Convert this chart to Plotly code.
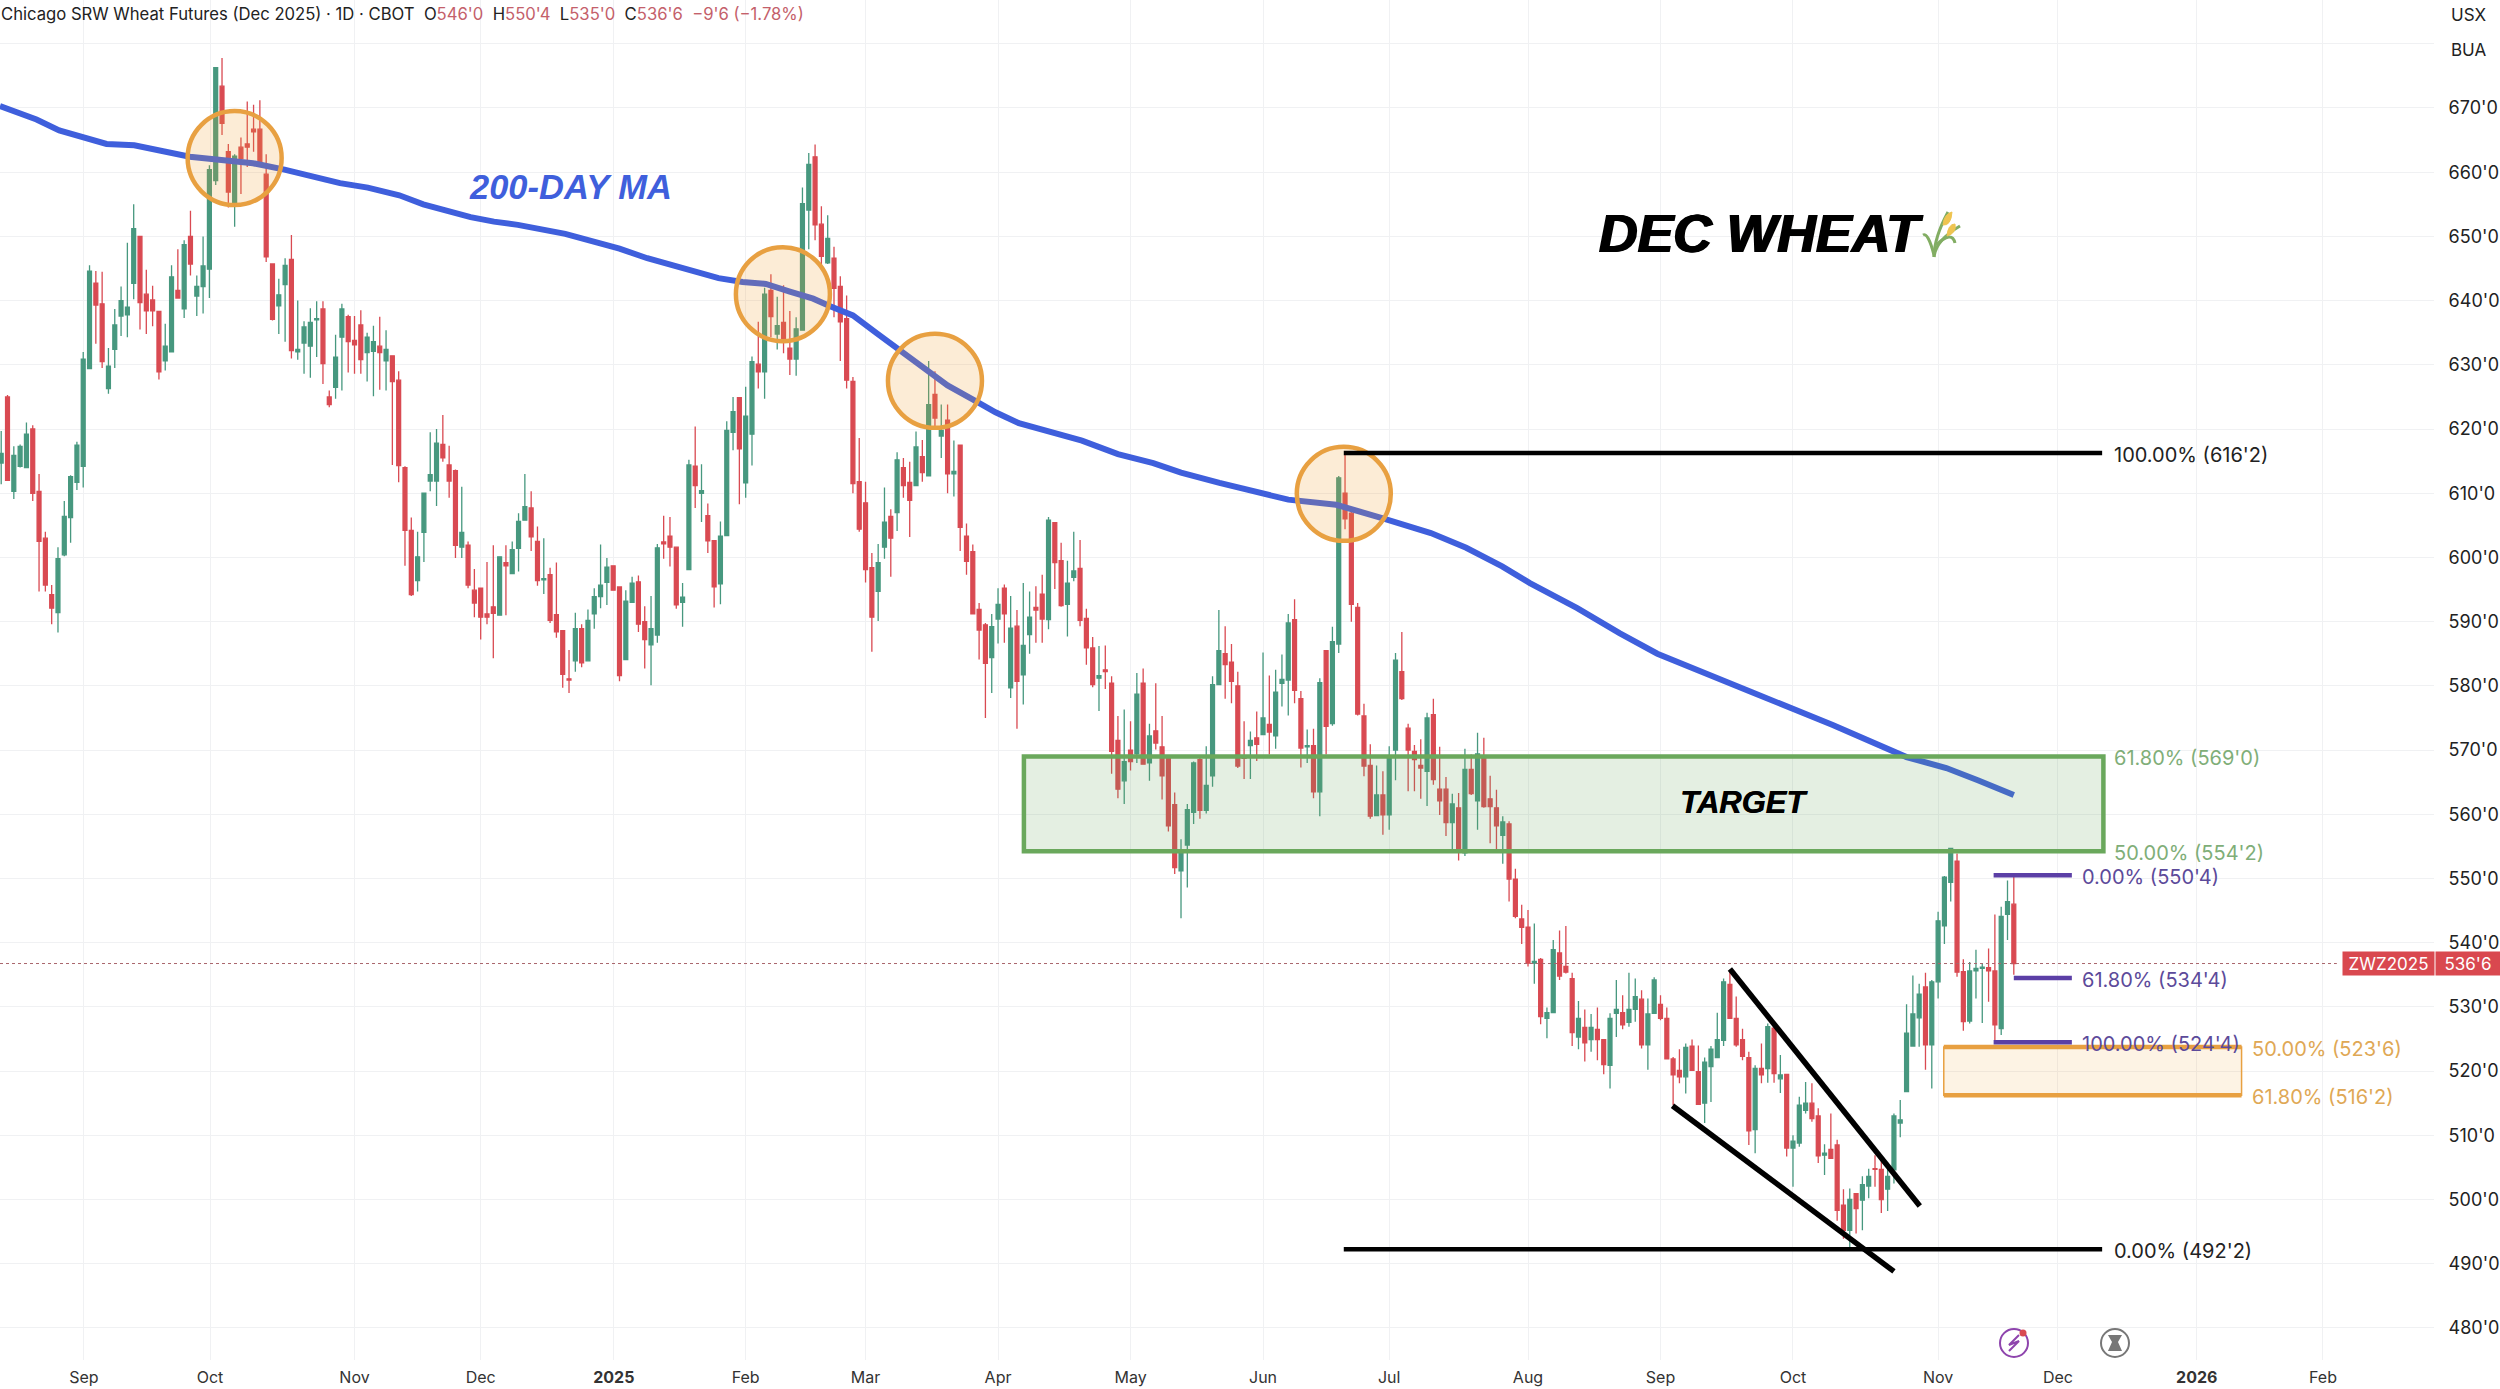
import plotly.graph_objects as go

W, H = 2500, 1389
PLOT_R, PLOT_B = 2434, 1360

opens = [
614.7,625,610.3,614.2,614,620,610.3,603,594.2,591.4,
600.4,606.2,611.7,614.2,629.4,642.7,639.5,626.3,632.4,637.6,
637.8,642.7,650,641,640.1,638.3,630.6,632,641.6,638.7,
650,640.7,642.2,644.9,658.7,673.4,663.2,654.8,663.9,664.4,
666.7,666.7,659.7,645.7,639.2,642.5,646.4,632,633.4,632.9,
637,638.7,625,626.5,634.3,637.5,633.8,636.2,631.9,632.1,
632.9,630.6,631.4,627.6,614,604.2,596.4,603.9,611.9,611.9,
617.6,614.4,613.5,601.6,601.9,594.9,595.2,591.2,592.3,591,
599.2,597.5,601.4,605.8,607.7,602.5,596.5,597.3,591.1,588.6,
581.1,583.9,588.9,583.9,591.2,593.9,596.1,598.7,595.4,584.1,
593,596.2,590,586.4,587.9,602.4,603.3,601.6,593,598.1,
614.2,610,606.5,602.6,595.9,603.4,619.5,624.9,611.6,619.2,
630.1,628.9,641.6,634.8,636.6,632.6,630.9,635.4,654.1,662.4,
651.9,645.9,646.6,642.2,637.2,627.4,611.8,608.5,598.4,594.7,
601.6,606.4,607,614,611.7,611.2,615.7,612.7,625.4,618.9,
621.4,613,617.5,603.3,600.9,591.9,589.5,584.4,590.4,595.2,
579.7,589.3,581.7,588,592.2,594.3,590.3,605.4,599.5,592.7,
596.9,598.3,590.5,585.9,581.2,582.5,580.4,571.5,565.2,570,
569.4,580.4,568,573,570.5,568.9,561.5,551.2,555.2,560.3,
568.5,560.6,566,580.2,585,583.7,580,569,570.7,571.9,
572.4,574,572.2,580.4,580.9,590.3,578,570.5,570.7,563.5,
585.5,574.1,586.5,610,606.9,592.2,575.3,567.6,559.8,563,
559.9,570,582.2,573.4,569.8,567.6,566.7,575.5,563.9,563.9,
558.7,561,554,567,562.1,568.8,562.4,561,556.7,558.5,
549.9,543.7,542.4,536.8,537.4,528.2,529.1,538.4,536.3,534.4,
525.3,526.8,524.9,526.5,524.9,520.9,529,529.1,527.6,529.6,
531.2,524.1,529,530.4,528.2,521.9,520.1,519.1,523.9,519.9,
515,520.7,522.1,524.8,533.5,528.2,524.9,522.1,510.9,520.4,
520.4,526.7,518.8,519.5,508,508.8,513.9,515,513,506.9,
507.8,508.5,499.1,495.2,500.9,499.9,502.1,504.8,504.7,501.6,
504.6,511.9,516.8,523.9,528.3,533.1,524.1,533.9,542.6,549.4,
552.7,535.5,527.8,535.6,536,536.1,535.6,526.6,544.4,546,
]
highs = [
619.7,625.3,617.3,617.6,621,620.6,613,604,595.7,601.6,
608.8,612.8,618,632,645.5,644.6,644.5,632.6,638.7,642.2,
649,655,650,644.8,642.3,638.3,636.4,645.5,648,649.4,
654,643.9,650,661.1,676.3,677.8,664.4,662.8,665.4,671,
670.5,671.2,662.8,645.8,643.4,646.6,650.2,640,636.8,638.8,
639.9,639.9,626,634.7,639.5,637.8,637.6,638.5,635,636.1,
637.5,635.4,631.5,629,614.2,606.2,604,610,619.5,620,
622.2,617.4,613.7,611,602.5,598.2,595.2,599.3,601.9,600.1,
601.9,602.5,606.9,613,610.3,604.8,603,598.4,599.2,588.7,
585.6,591.4,589.6,591.9,595.2,602,599.9,598.7,595.4,594.9,
597,597.2,592.4,594,602.1,606.5,606.3,601.6,596,615.2,
620.4,614.5,608.4,602.6,605.6,621.2,625,624.9,626.6,631.3,
636.7,642,644.1,640.6,642.4,638.4,637.4,657.6,663,664.3,
654.7,653.3,648.4,643.8,640.8,628.1,618.6,611.8,600.7,602.1,
610.9,607.5,616.4,615.5,614.9,619.6,618.3,630.6,629,623.8,
623.8,618.2,617.5,605.3,602,592.9,589.8,591.2,595.2,595.8,
594,591.8,596,594.7,595.5,597.3,606.3,605.5,602.3,599.5,
604,602.7,592,587.6,586.2,586.3,581.5,575.3,576.3,574.5,
582,582.7,574.1,580.4,575.3,569.1,563.4,556.1,561.6,568.2,
568.9,570.6,581.5,591.8,589.3,586.5,582.2,574.5,572.9,576,
585.2,581.6,582.5,584.9,591.2,593.5,579.2,573.2,573.3,581.2,
585.5,589.2,612.7,616.25,607.4,592.9,577.2,570.9,567.6,566.7,
570.6,585.1,588.4,574.1,570.8,571.7,575.8,578,570.5,565.8,
563.2,563.3,570.2,569.3,572.7,571.9,566,563.8,559.7,558.9,
551.5,545.9,545.1,543,537.6,529.9,540.4,541.9,542.6,535.3,
530.9,529.6,528.9,529.9,524.9,529,534.2,531.8,535.3,534.4,
532.6,531.3,534.6,531.8,529.9,522.2,523.4,524.3,524.9,524,
522.1,523.9,529.1,534.4,535.7,531.6,526.6,523,520.9,524.3,
527.4,527.7,522.5,519.5,510,516,518.3,518.1,514.2,508.6,
513.4,509.3,501.6,501.7,500.9,503.6,504.8,506.9,506.1,505.1,
513.4,515.5,530.4,534.9,533.6,535.3,534.2,544.8,550.4,554.8,
553.9,537.4,537,538.9,536.8,539.1,544.4,545.6,549.7,550.5,
]
lows = [
611.4,612,609.1,614,614,608.8,594.7,594.7,589.6,588.3,
600.2,602.3,610.5,610.9,629.4,633.3,629.5,625.5,629.5,634.5,
634.3,640.2,635.5,634.8,636,627.7,629.1,631.9,640.4,637.3,
643.9,637.6,638,640.4,658,665.8,654.5,651.5,656.6,660.8,
663.2,660.8,646,636.9,634.8,633.6,631,630.8,628.6,628,
631.2,627,623.4,624.7,626,628.8,628.6,628.6,627.4,625.1,
626.1,626,614.4,611.7,598.7,594,594.7,599.3,610.3,608,
614.9,609.3,599.9,599.9,595.2,590.7,587.2,589.6,584.3,590.9,
591,597.5,597.8,605.8,601,595.6,594.3,589.8,587.5,579.7,
578.9,582.2,582.9,583.9,588.9,592.1,592.6,594.9,580.7,584.1,
593,588.4,582.7,580.1,586.7,599.8,598.6,592,589.2,598,
607.7,605.5,600.7,592.2,592.7,603.4,616.7,608.3,609.3,614.3,
626.3,624.7,634.3,632.4,631.8,628.4,628.3,635.4,648,649.4,
644.8,645.7,637.4,630.6,626.3,610,604,596.1,585.3,590.1,
599.8,597,604.1,609.3,603.2,611.2,611.8,612.7,620.1,615.5,
610,609.5,601,597.3,591.2,584.1,575,578.9,586.6,586.7,
578.1,573.3,577.1,585,586.7,586.7,588.8,595.1,592.3,587.7,
596.3,589.3,583.3,579.8,576.1,579.5,566.3,562.5,561.6,566.8,
568,567.7,565.2,570.1,562.3,557.3,550.7,543.8,548.6,558.5,
559.3,560.1,564.3,580.2,578,577.3,567.2,565.5,565.5,568.3,
572.4,569.3,570.2,576.8,575.4,577.3,567.3,568,562.5,559.7,
569.3,573.8,585.1,604.4,590,575.4,565.9,559.3,559.8,556.8,
557.6,565.3,577.8,563.6,563.6,562.4,561.3,564.6,559.9,556.6,
554.5,552.8,553.5,563,557.6,561,555.5,554.2,552.3,546.4,
543.8,539.8,536.3,533.6,527.3,525.1,529.1,534.2,535.2,523.9,
523.4,521.5,523,521.7,519.5,517.3,525.3,526.5,526.9,527.7,
523.5,520.2,529,527.9,521.8,514.7,518.1,516.5,520.1,514.8,
511.9,515.2,522.1,523.9,528.2,523.8,521.7,508.5,507.2,518.1,
518.2,518.2,516.6,506.7,502,508.2,513.4,512.1,505.7,503.8,
506.4,496.7,493.9,492.4,494.7,495.2,500.2,502,497.9,498.2,
502.5,509.7,516.8,523.9,523.8,520.2,517.3,531.3,539.8,546.4,
534.7,526.3,527.4,531.3,527.5,530.8,524.5,525.6,540.4,535,
]
closes = [
616.2,612,615.9,617.3,619.2,610,602.5,595.7,592.1,599.8,
606.4,612.6,617.5,630.9,644.6,639.3,630.5,629.8,636.2,640,
639,651.2,639.7,638.4,638.4,628.9,632.9,643.7,640.4,648.7,
645.7,642.2,645.4,660.4,676.3,667.6,656.9,662.5,662.1,663.9,
666.3,661.4,646.8,637.1,640.9,645.5,632.2,632.4,635.9,636.6,
637.2,630.2,623.8,631.2,638.7,633.6,633.1,630.8,634.3,633.6,
631.9,632.4,627.4,614.3,604.2,594.2,600.1,610,612.9,617.8,
615.5,611.9,601.9,603.9,595.7,592.9,590.7,590.7,591.3,600.1,
598.7,601.2,605.6,607.9,603.2,596.4,596.7,590.2,588.4,581.8,
580.9,588.9,583.6,590.2,593.9,595.7,598.5,594.9,581.6,593.2,
596,589.6,587.2,588.9,601.5,602.1,601.6,592.6,593.8,614.4,
611.2,610.4,602.6,595.4,603.3,619.8,622.7,616.9,622,630.5,
628.9,641,637.5,636.1,633.5,630.9,635.6,655.1,661.2,651.8,
646.9,649.7,641.9,636.7,627.6,611.5,604.4,598.1,590.7,599.2,
605.5,603,615.2,611.2,608.9,617.2,613.2,623.8,621.7,619.8,
613,613.4,604.7,599.4,591.2,588.7,583.5,589.2,592.7,591.2,
589,580.7,586.3,590.7,591.8,590.4,605.8,599.2,592.5,596,
597.9,590.2,585.9,580.2,581.6,582.2,569.8,563.9,568.2,568.2,
578.7,567.8,572.2,571.1,566,558.2,551.7,554.1,560.7,568,
560.6,564.5,580.2,585.5,583.3,580.7,567.5,568.7,571.5,570.9,
575,572.8,579,581,589.8,579.3,570.3,570.7,563.5,580.5,
573.7,586.9,612.4,606,592.7,575.6,567.5,559.7,563,559.9,
569.1,584,578,570,568.5,567.2,575,565.4,562.1,558.7,
561.6,554.1,567,563.2,569.4,561.2,561.2,558.2,558.8,549.9,
544.1,542.4,536.8,537.1,528.5,529.1,538.9,534.8,535.4,526,
528.2,524.4,526.8,524.9,521,528.2,529.6,527.2,529.6,531.6,
524.1,528.9,534.2,528.2,521.9,519.4,519.1,523.7,520.1,514.8,
521.4,523.4,524.9,533.9,528.2,524.1,522.3,510.7,520.4,519.4,
526.9,519.6,519.4,508,509.1,514.7,515,512.6,506.8,507.2,
506.4,498.3,495.2,500,498.6,502.3,503.6,504.7,500,503.6,
513,512.4,525.9,528.9,532,524.1,533.9,543.4,550.2,554.7,
535.4,527.7,535.6,536,536.2,535.6,527.2,544.1,546.4,536.75,
]
bars = list(range(1, len(opens) + 1))

ma_bars = [0.8,6.6,10.2,14.1,17.7,22.1,26.5,30.9,35.9,40.9,45.9,50.9,54.7,59.1,64.1,67.9,75.4,79.1,82.9,90.4,94.8,99,
           103.4,109,114.7,118.5,122.2,126,129.7,132.2,136,139.8,142.9,147.9,151,155.4,158.6,162.3,167.3,172.3,178,183.6,188,194.1,
           205,212.6,220,227.6,233.2,238.9,243.3,250.8,257.5,263.5,278.5,291.3,303,309.3,314.3,320]
ma_values = [670.3,668.2,666.5,665.3,664.4,664.2,663.2,662.4,661.9,661.4,660.4,659.2,658.3,657.6,656.4,655,653,652.3,651.8,650.4,649.3,648.1,
             646.6,645.1,643.5,642.9,642.6,641.4,640.3,639.2,637.7,634.9,632.6,629.1,626.8,624.4,622.6,620.9,619.6,618.2,616.1,614.7,613.2,611.6,
             609,608.2,606.1,603.8,601.5,598.6,596,592.1,588.2,585,579,573.9,568.9,567.2,565.3,563]

month_bars = [14.1,34.1,57,77,98.1,119,138,159,180,201,221,243,264,285,308,327,349,369]
month_labels = ["Sep","Oct","Nov","Dec","<b>2025</b>","Feb","Mar","Apr","May","Jun","Jul","Aug","Sep","Oct","Nov","Dec","<b>2026</b>","Feb"]
price_ticks = [680,670,660,650,640,630,620,610,600,590,580,570,560,550,540,530,520,510,500,490,480]
price_labels = ["","670'0","660'0","650'0","640'0","630'0","620'0","610'0","600'0","590'0","580'0","570'0","560'0","550'0","540'0","530'0","520'0","510'0","500'0","490'0","480'0"]

X0, X1 = 0.81, 386.6
Y0, Y1 = 475.0, 686.82
GREEN, RED = "#47987f", "#d94a52"
FONT = "Inter"
HEAD = "Liberation Sans"
PX = lambda v: v / PLOT_R
PY = lambda v: 1 - v / PLOT_B

fig = go.Figure()
fig.add_trace(go.Candlestick(
    x=bars, open=opens, high=highs, low=lows, close=closes,
    increasing=dict(line=dict(color=GREEN, width=1.3), fillcolor=GREEN),
    decreasing=dict(line=dict(color=RED, width=1.3), fillcolor=RED),
    whiskerwidth=0, showlegend=False, hoverinfo="skip"))
fig.add_trace(go.Scatter(x=ma_bars, y=ma_values, mode="lines",
    line=dict(color="#3f5fdc", width=6), showlegend=False, hoverinfo="skip"))

shapes = []
def line(x0, y0, x1, y1, color, width, dash="solid"):
    shapes.append(dict(type="line", xref="x", yref="y", x0=x0, y0=y0, x1=x1, y1=y1,
                       line=dict(color=color, width=width, dash=dash)))

# last price
line(X0, 536.75, 371.2, 536.75, "#a9666c", 1, "dot")

# touch circles
for cx, cy in [(38, 662.2), (124.9, 641), (149, 627.5), (213.8, 609.9)]:
    shapes.append(dict(type="circle", xref="x", yref="y", x0=cx-7.45, x1=cx+7.45, y0=cy-7.32, y1=cy+7.32,
                       fillcolor="rgba(240,160,50,0.20)", line=dict(color="#e8a041", width=4.5)))

# target zone
shapes.append(dict(type="rect", xref="x", yref="y", x0=163.1, x1=334.2, y0=554.25, y1=569,
                   fillcolor="rgba(106,168,92,0.18)", line=dict(color="#6aa85c", width=4.5)))

# retracement zone
shapes.append(dict(type="rect", xref="x", yref="y", x0=308.9, x1=356.1, y0=516.25, y1=523.75,
                   fillcolor="rgba(240,160,50,0.13)", line=dict(color="#e8a041", width=1.5)))
line(308.9, 523.75, 356.1, 523.75, "#e8a041", 4.5)
line(308.9, 516.25, 356.1, 516.25, "#e8a041", 4.5)

# purple fib
line(316.8, 550.5, 329.2, 550.5, "#5b3fa6", 4.5)
line(320.0, 534.5, 329.2, 534.5, "#5b3fa6", 4.5)
line(316.8, 524.5, 329.2, 524.5, "#5b3fa6", 4.5)

# black fib
line(213.8, 616.25, 334, 616.25, "#000000", 4.5)
line(213.8, 492.25, 334, 492.25, "#000000", 4.5)

# wedge
line(275, 535.9, 305.1, 499, "#000000", 5.5)
line(265.9, 514.6, 301, 488.8, "#000000", 5.5)

def paper_path(d, **kw):
    shapes.append(dict(type="path", xref="paper", yref="paper", path=d, **kw))
def paper_circle(cx, cy, r, **kw):
    shapes.append(dict(type="circle", xref="paper", yref="paper",
                       x0=PX(cx-r), x1=PX(cx+r), y0=PY(cy+r), y1=PY(cy-r), **kw))
def P(*pts):
    return " ".join(f"{c}{PX(x):.5f},{PY(y):.5f}" for c, x, y in pts)

# wheat glyph
wheat = dict(line=dict(color="#82ad63", width=3))
paper_path(P(("M",1934,257),("Q",1934,238),("",1948,212)), **wheat)
paper_path(P(("M",1934,257),("Q",1936,240),("",1960,226)), **wheat)
paper_path(P(("M",1934,255),("Q",1928,232),("",1923,235)), **wheat)
paper_path(P(("M",1936,245),("Q",1952,230),("",1955,243)), **wheat)
paper_path(P(("M",1943,225),("Q",1944,214),("",1952,212),("Q",1951,226),("",1943,225)), fillcolor="#efc450", line=dict(color="#efc450", width=1))
paper_path(P(("M",1947,236),("Q",1948,224),("",1955,224),("Q",1957,233),("",1947,236)), fillcolor="#efc450", line=dict(color="#efc450", width=1))

# bottom icons
paper_circle(2014, 1343, 14, line=dict(color="#8e44ad", width=2), fillcolor="white")
paper_path(P(("M",2019,1335),("L",2009,1345),("L",2019,1341),("L",2009,1351)), line=dict(color="#8e44ad", width=2))
paper_circle(2023, 1333, 3.5, line=dict(color="#d94a52", width=0), fillcolor="#d94a52")
paper_circle(2115, 1343, 14, line=dict(color="#777777", width=2), fillcolor="white")
paper_path(P(("M",2108,1335),("L",2122,1335),("L",2118,1342),("L",2122,1351),("L",2108,1351),("L",2112,1342))+" Z",
           fillcolor="#777777", line=dict(color="#777777", width=0))

ann = []
def text(x, y, s, color, size, family=FONT, xref="x", yref="y", xanchor="left", shadow=None):
    font = dict(color=color, size=size, family=family)
    if shadow:
        font["shadow"] = shadow
    ann.append(dict(x=x, y=y, xref=xref, yref=yref, text=s, showarrow=False, xanchor=xanchor, yanchor="middle", font=font))

LBL = 20
DROP = 0.25
FIBG, FIBP, FIBO, FIBK = "#7fae78", "#5c4a9a", "#dfa855", "#222222"
text(PX(2112), 569-DROP, "61.80% (569'0)", FIBG, LBL, xref="paper")
text(PX(2112), 554.25-DROP, "50.00% (554'2)", FIBG, LBL, xref="paper")
text(PX(2080), 550.5-DROP, "0.00% (550'4)", FIBP, LBL, xref="paper")
text(PX(2080), 534.5-DROP, "61.80% (534'4)", FIBP, LBL, xref="paper")
text(PX(2080), 524.5-DROP, "100.00% (524'4)", FIBP, LBL, xref="paper")
text(PX(2250), 523.75-DROP, "50.00% (523'6)", FIBO, LBL, xref="paper")
text(PX(2250), 516.25-DROP, "61.80% (516'2)", FIBO, LBL, xref="paper")
text(PX(2112), 616.25-DROP, "100.00% (616'2)", FIBK, LBL, xref="paper")
text(PX(2112), 492.25-DROP, "0.00% (492'2)", FIBK, LBL, xref="paper")

text(PX(570), PY(187), "<b><i>200-DAY MA</i></b>", "#3f5fdc", 34.5, HEAD, xref="paper", yref="paper", xanchor="center")
text(PX(1761), PY(233), "<b><i>DEC WHEAT</i></b>", "#000000", 53.5, HEAD, xref="paper", yref="paper", xanchor="center", shadow="1px 0 0 #000000, -1px 0 0 #000000")
text(PX(1744), PY(802), "<b><i>TARGET</i></b>", "#000000", 31, HEAD, xref="paper", yref="paper", xanchor="center", shadow="0.5px 0 0 #000000")

R = "#c4606a"
title = ("Chicago SRW Wheat Futures (Dec 2025) · 1D · CBOT  "
         f"O<span style='color:{R}'>546'0</span>  H<span style='color:{R}'>550'4</span>  "
         f"L<span style='color:{R}'>535'0</span>  C<span style='color:{R}'>536'6</span>  "
         f"<span style='color:{R}'>−9'6 (−1.78%)</span>")
text(PX(-1), PY(14), title, "#222222", 16.65, xref="paper", yref="paper")
text(PX(2468), PY(15), "USX", "#222222", 17, xref="paper", yref="paper", xanchor="center")
text(PX(2468), PY(50), "BUA", "#222222", 17, xref="paper", yref="paper", xanchor="center")

ann.append(dict(x=PX(2388.5), y=536.75, xref="paper", yref="y", text="ZWZ2025", showarrow=False, xanchor="center", yanchor="middle",
                width=91, height=23, bgcolor="#d9484f", borderpad=0, font=dict(color="white", size=17, family=FONT)))
ann.append(dict(x=PX(2468), y=536.75, xref="paper", yref="y", text="536'6", showarrow=False, xanchor="center", yanchor="middle",
                width=64, height=23, bgcolor="#d9484f", borderpad=0, font=dict(color="white", size=17, family=FONT)))

fig.update_layout(
    width=W, height=H, autosize=False,
    margin=dict(l=0, r=W-PLOT_R, t=0, b=H-PLOT_B, pad=0),
    paper_bgcolor="white", plot_bgcolor="white",
    showlegend=False, shapes=shapes, annotations=ann, boxgap=0.12,
    font=dict(family=FONT, color="#222222"),
    xaxis=dict(range=[X0, X1], tickmode="array", tickvals=month_bars, ticktext=month_labels, automargin=False,
               showgrid=True, gridcolor="#f0f1f3", gridwidth=1, zeroline=False, showline=False,
               ticks="outside", ticklen=3, tickcolor="white", tickfont=dict(size=16, color="#333333", family=FONT),
               rangeslider=dict(visible=False), fixedrange=True),
    yaxis=dict(range=[Y0, Y1], side="right", tickmode="array", tickvals=price_ticks, ticktext=price_labels, automargin=False,
               showgrid=True, gridcolor="#f0f1f3", gridwidth=1, zeroline=False, showline=False,
               ticks="outside", ticklen=10, tickcolor="white", tickfont=dict(size=18, color="#222222", family=FONT),
               fixedrange=True),
)

fig.write_html("out.html", config={"displayModeBar": False},
               post_script="document.body.style.margin='0';document.documentElement.style.overflow='hidden';")
